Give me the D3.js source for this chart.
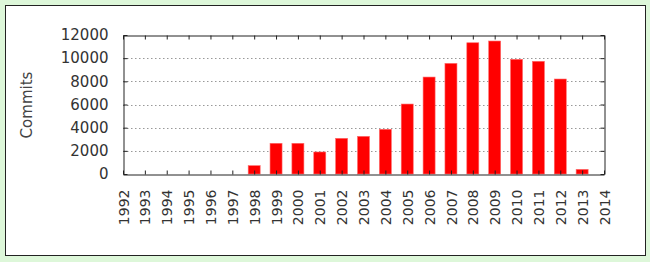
<!DOCTYPE html>
<html>
<head>
<meta charset="utf-8">
<script src="https://cdn.jsdelivr.net/npm/d3@7"></script>
<style>
  html, body { margin: 0; padding: 0; background: #ddf7d9; }
  svg { display: block; }
  text { font-family: "DejaVu Sans", sans-serif; fill: #333; }
</style>
</head>
<body>
<svg width="650" height="262"></svg>
<script>
// commits per year
var years = d3.range(1992, 2015);
var barYears = [1998, 1999, 2000, 2001, 2002, 2003, 2004, 2005, 2006, 2007, 2008, 2009, 2010, 2011, 2012, 2013];
var commits = [720, 2650, 2650, 1900, 3080, 3250, 3860, 6040, 8370, 9550, 11330, 11480, 9900, 9730, 8200, 400];
var yTicks = [0, 2000, 4000, 6000, 8000, 10000, 12000];

var svg = d3.select("svg");

// white panel with dark border
svg.append("rect")
    .attr("x", 5.5).attr("y", 5.5)
    .attr("width", 640).attr("height", 250)
    .attr("fill", "#fff")
    .attr("stroke", "#222")
    .attr("stroke-width", 1);

var pLeft = 123, pRight = 604, pTop = 35, pBottom = 174;

var x = d3.scaleLinear()
    .domain([1992, 2014])
    .range([pLeft, pRight]);

var y = d3.scaleLinear()
    .domain([0, 12000])
    .range([pBottom, pTop]);

// dotted grid
svg.append("g")
  .selectAll("line")
  .data(yTicks.filter(function(d){ return d > 0 && d < 12000 }))
  .enter()
  .append("line")
    .attr("x1", pLeft).attr("x2", pRight)
    .attr("y1", function(d){ return Math.round(y(d)) + 0.5 })
    .attr("y2", function(d){ return Math.round(y(d)) + 0.5 })
    .attr("stroke", "#999")
    .attr("stroke-dasharray", "1.5,2.5");

// bars
var bw = 12;
svg.append("g")
  .selectAll("rect")
  .data(barYears.map(function(d, i){ return {year: d, value: commits[i]} }))
  .enter()
  .append("rect")
    .attr("x", function(d){ return x(d.year) - bw / 2 })
    .attr("y", function(d){ return y(d.value) })
    .attr("width", bw)
    .attr("height", function(d){ return y(0) - y(d.value) })
    .attr("fill", "#ff0000")
    .attr("stroke", "#ff6a6a")
    .attr("stroke-width", 0.6);

// axes (ticks inward, mirrored)
var xb = svg.append("g")
    .attr("transform", "translate(0," + (pBottom + 0.5) + ")")
    .call(d3.axisBottom(x).tickValues(years).tickFormat(d3.format("d")).tickSizeInner(-4).tickSizeOuter(0));
var xt = svg.append("g")
    .attr("transform", "translate(0," + (pTop + 0.5) + ")")
    .call(d3.axisTop(x).tickValues(years).tickFormat("").tickSizeInner(-4).tickSizeOuter(0));
var yl = svg.append("g")
    .attr("transform", "translate(" + (pLeft + 0.5) + ",0)")
    .call(d3.axisLeft(y).tickValues(yTicks).tickFormat(d3.format("d")).tickSizeInner(-4).tickSizeOuter(0));
var yr = svg.append("g")
    .attr("transform", "translate(" + (pRight + 0.5) + ",0)")
    .call(d3.axisRight(y).tickValues(yTicks).tickFormat("").tickSizeInner(-4).tickSizeOuter(0));

svg.selectAll(".domain, .tick line").attr("stroke", "#222");
svg.selectAll("g").attr("font-family", null);

xb.selectAll("text")
    .attr("font-size", 14)
    .attr("transform", "rotate(-90)")
    .attr("text-anchor", "end")
    .attr("x", -15)
    .attr("y", 0)
    .attr("dy", "0.36em");

yl.selectAll("text")
    .attr("font-size", 15)
    .attr("x", -15);

// y label
svg.append("text")
    .attr("transform", "translate(32,105) rotate(-90)")
    .attr("text-anchor", "middle")
    .attr("font-size", 15)
    .style("fill", "#444")
    .text("Commits");
</script>
</body>
</html>
